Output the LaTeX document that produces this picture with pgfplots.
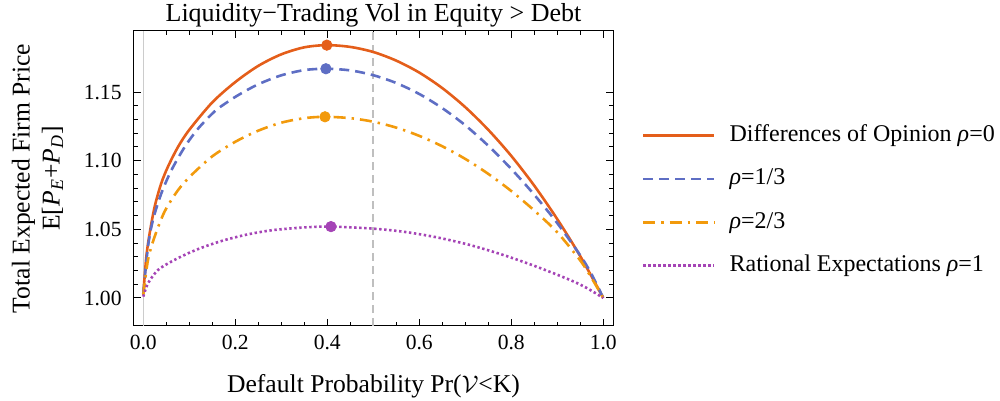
\documentclass[border=0pt]{standalone}
\usepackage{fontspec}
\setmainfont{Liberation Serif}
\usepackage{pgfplots}
\pgfplotsset{compat=1.18}
\definecolor{cA}{RGB}{228,94,26}
\definecolor{cB}{RGB}{94,110,196}
\definecolor{cC}{RGB}{242,154,12}
\definecolor{cD}{RGB}{165,68,182}
\begin{document}
\begin{tikzpicture}
\begin{axis}[
  scale only axis,
  width=239.5pt, height=147.5pt,
  xmin=-0.0202, xmax=1.0211,
  ymin=0.9796, ymax=1.1945,
  axis line style={line width=0.5pt},
  tick align=inside,
  tick pos=both,
  major tick length=3.5pt, minor tick length=2pt,
  tick style={line width=0.5pt, black},
  xtick={0,0.2,0.4,0.6,0.8,1.0},
  minor x tick num=3,
  ytick={1.00,1.05,1.10,1.15},
  minor y tick num=4,
  xticklabel style={/pgf/number format/fixed,/pgf/number format/fixed zerofill,/pgf/number format/precision=1, anchor=base, yshift=-12pt, inner sep=0pt},
  yticklabel style={/pgf/number format/fixed,/pgf/number format/fixed zerofill,/pgf/number format/precision=2, anchor=east, xshift=-6pt, inner sep=0pt},
  /pgf/number format/assume math mode=true,
  ticklabel style={font=\rmfamily\fontsize{10.8}{13}\selectfont},
  title={Liquidity−Trading Vol in Equity > Debt},
  title style={at={(axis description cs:0.5,1)}, anchor=base, yshift=-1.5pt, font=\rmfamily\fontsize{13}{15}\selectfont, inner sep=0pt},
  xlabel={Default Probability Pr($\mathcal{V}$<K)},
  xlabel style={at={(axis description cs:0.5,0)}, anchor=base, yshift=-33pt, font=\rmfamily\fontsize{12.8}{15}\selectfont, inner sep=0pt},
  ylabel={Total Expected Firm Price\\E[\textit{P}\textsubscript{\textit{E}}+\textit{P}\textsubscript{\textit{D}}]},
  ylabel style={at={(axis description cs:-0.147,0.5)}, anchor=south, rotate=0, align=center, font=\rmfamily\fontsize{12.8}{15}\selectfont, inner sep=0pt},
  legend style={at={(axis description cs:1.0605,0.425)}, anchor=west, draw=none, fill=none, inner sep=0pt, outer sep=0pt,
    font=\rmfamily\fontsize{12}{14}\selectfont, row sep=9.7pt, column sep=7pt,
    nodes={inner sep=0pt, text height=9pt, text depth=3pt}},
  legend cell align=left,
  legend image code/.code={\draw[#1] (0pt,0pt) -- (35.5pt,0pt);},
]
\addplot[line width=0.5pt, black!20, forget plot] coordinates {(0,0.9796) (0,1.1945)};
\addplot[line width=0.8pt, black!25, dash pattern=on 4pt off 2.5pt, forget plot] coordinates {(0.5,0.9796) (0.5,1.1945)};

\addplot[cA, line width=1.3pt, smooth] coordinates {
(0,1.003) (0.0066,1.030) (0.0138,1.047) (0.0247,1.0665) (0.039,1.0835) (0.0537,1.0957)
(0.0754,1.110) (0.1,1.1225) (0.15,1.1425) (0.20,1.1573) (0.25,1.1691) (0.30,1.1775)
(0.35,1.1826) (0.399,1.1842) (0.45,1.1829) (0.50,1.1792) (0.55,1.1729) (0.60,1.1642)
(0.65,1.1529) (0.70,1.1390) (0.75,1.1225) (0.80,1.1035) (0.85,1.0818) (0.90,1.0574)
(0.95,1.0304) (1.0,1.0)};
\addlegendentry{Differences of Opinion \textit{ρ}=0}

\addplot[cB, line width=1.3pt, dash pattern=on 5pt off 3pt, smooth] coordinates {
(0,1.003) (0.0102,1.0374) (0.021,1.0568) (0.039,1.076) (0.061,1.093) (0.090,1.110)
(0.119,1.1233) (0.155,1.1359) (0.184,1.1430) (0.21,1.1485) (0.25,1.1557) (0.30,1.1622)
(0.35,1.1660) (0.397,1.1670) (0.45,1.1658) (0.50,1.1623) (0.55,1.1566) (0.60,1.1486)
(0.65,1.1383) (0.70,1.1258) (0.75,1.1109) (0.80,1.0940) (0.85,1.0752) (0.90,1.0545)
(0.95,1.0310) (0.975,1.0170) (1.0,1.0)};
\addlegendentry{\textit{ρ}=1/3}

\addplot[cC, line width=1.3pt, dash pattern=on 6pt off 3pt on 1.2pt off 3pt, smooth] coordinates {
(0,1.002) (0.0102,1.0277) (0.0247,1.0447) (0.0464,1.063) (0.0754,1.0785) (0.104,1.0893)
(0.15,1.1032) (0.20,1.1138) (0.25,1.1219) (0.30,1.1277) (0.35,1.1310) (0.395,1.1320)
(0.45,1.1310) (0.50,1.1284) (0.55,1.1241) (0.60,1.1181) (0.65,1.1105) (0.70,1.1013)
(0.75,1.0904) (0.80,1.0779) (0.85,1.0637) (0.90,1.0478) (0.95,1.0273) (0.975,1.0143) (1.0,1.0)};
\addlegendentry{\textit{ρ}=2/3}

\addplot[cD, line width=1.3pt, dash pattern=on 1.2pt off 1.3pt, smooth] coordinates {
(0,1.001) (0.0102,1.0107) (0.032,1.0204) (0.061,1.0265) (0.097,1.0325) (0.133,1.0374)
(0.177,1.0422) (0.228,1.0464) (0.283,1.0495) (0.355,1.0515) (0.408,1.0520) (0.493,1.0507)
(0.565,1.0483) (0.638,1.0442) (0.710,1.0386) (0.783,1.0313) (0.855,1.0228) (0.928,1.0131)
(0.964,1.0073) (1.0,1.0)};
\addlegendentry{Rational Expectations \textit{ρ}=1}

\addplot[only marks, mark=*, mark size=2.6pt, cA, forget plot] coordinates {(0.399,1.1842)};
\addplot[only marks, mark=*, mark size=2.6pt, cB, forget plot] coordinates {(0.397,1.1670)};
\addplot[only marks, mark=*, mark size=2.6pt, cC, forget plot] coordinates {(0.395,1.1320)};
\addplot[only marks, mark=*, mark size=2.6pt, cD, forget plot] coordinates {(0.408,1.0520)};
\end{axis}
\pgfresetboundingbox
\path[use as bounding box] (-67pt,-37.5pt) rectangle (433pt,163pt);
\end{tikzpicture}
\end{document}
